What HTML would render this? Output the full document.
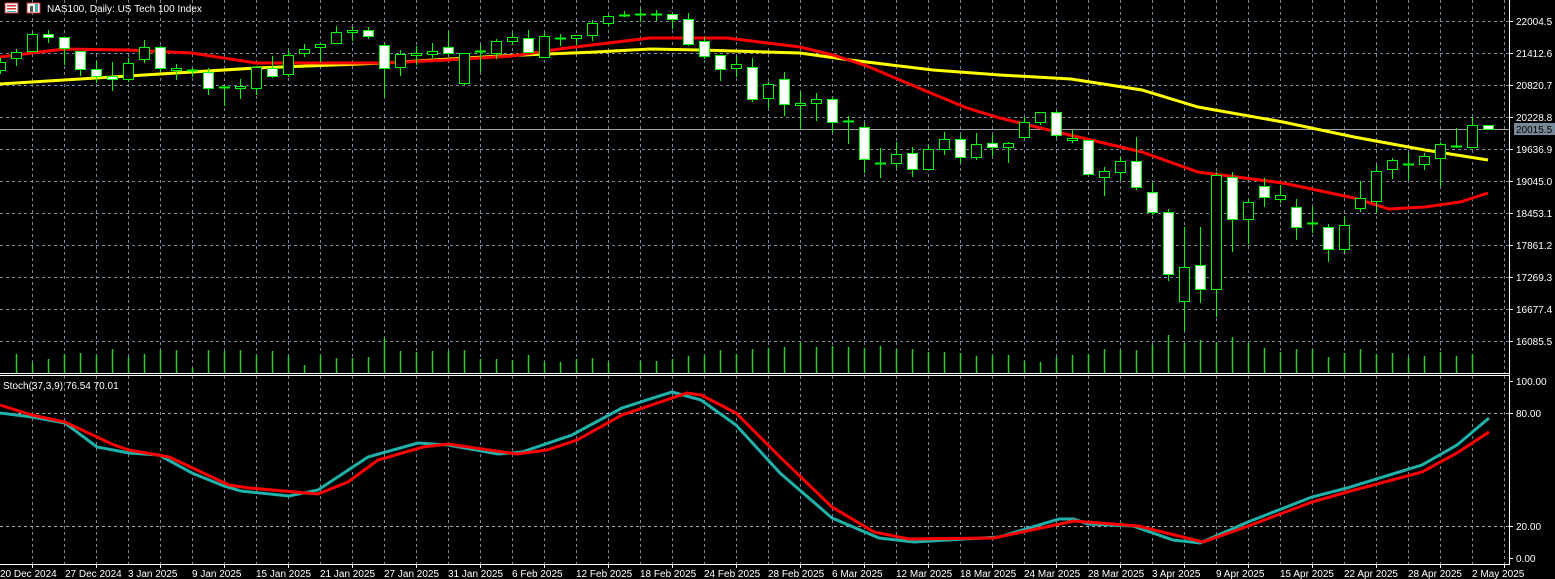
<!DOCTYPE html>
<html><head><meta charset="utf-8">
<style>
html,body{margin:0;padding:0;background:#000;}
body{width:1555px;height:579px;overflow:hidden;position:relative;font-family:"Liberation Sans","DejaVu Sans",sans-serif;}
svg{position:absolute;left:0;top:0;}
text{font-family:"Liberation Sans","DejaVu Sans",sans-serif;font-size:10px;fill:#fff;}
</style></head><body>
<svg id="c" width="1555" height="579" viewBox="0 0 1555 579" xmlns="http://www.w3.org/2000/svg">
<rect width="1555" height="579" fill="#000"/>
<g id="grid"></g>
<g id="vol"></g>
<line x1="0" y1="129.5" x2="1509" y2="129.5" stroke="#a0a0a0" stroke-width="1"/>
<polyline id="ma2" fill="none" stroke="#ffff00" stroke-width="3"/>
<polyline id="ma1" fill="none" stroke="#ff0000" stroke-width="3"/>
<g id="candles"></g>
<polyline id="st1" fill="none" stroke="#20b2aa" stroke-width="3"/>
<polyline id="st2" fill="none" stroke="#ff0000" stroke-width="3"/>
<!-- frame -->
<line x1="0" y1="373.5" x2="1509" y2="373.5" stroke="#fff"/>
<line x1="0" y1="375.5" x2="1509" y2="375.5" stroke="#fff"/>
<line x1="0" y1="564.5" x2="1509" y2="564.5" stroke="#fff"/>
<line x1="1509.5" y1="0" x2="1509.5" y2="565" stroke="#fff"/>
<g id="ticks"></g>
<!-- title -->
<rect x="5" y="3" width="13" height="10" fill="#fff" stroke="#c33"/>
<rect x="7" y="5" width="9" height="1.5" fill="#c33"/><rect x="7" y="8" width="9" height="1.5" fill="#c33"/><rect x="7" y="11" width="9" height="1" fill="#3aa"/>
<rect x="27" y="3" width="13" height="10" fill="#fff" stroke="#c33"/>
<rect x="30" y="6" width="3" height="6" fill="#555"/><rect x="35" y="4" width="3" height="8" fill="#4aa"/>
<text x="47" y="12">NAS100, Daily:  US Tech 100 Index</text>
<text x="3" y="389">Stoch(37,3,9) 76.54 70.01</text>
<!-- price axis labels -->
<text x="1516" y="25">22004.5</text>
<text x="1516" y="57">21412.6</text>
<text x="1516" y="89">20820.7</text>
<text x="1516" y="121">20228.8</text>
<rect x="1514" y="123" width="41" height="12" fill="#778899"/>
<text x="1516" y="133" style="fill:#000">20015.5</text>
<text x="1516" y="153">19636.9</text>
<text x="1516" y="185">19045.0</text>
<text x="1516" y="217">18453.1</text>
<text x="1516" y="249">17861.2</text>
<text x="1516" y="281">17269.3</text>
<text x="1516" y="313">16677.4</text>
<text x="1516" y="345">16085.5</text>
<text x="1516" y="385">100.00</text>
<text x="1516" y="417">80.00</text>
<text x="1516" y="530">20.00</text>
<text x="1516" y="562">0.00</text>
<!-- date labels -->
<g>
<text x="0" y="577">20 Dec 2024</text><text x="65" y="577">27 Dec 2024</text><text x="128" y="577">3 Jan 2025</text><text x="192" y="577">9 Jan 2025</text>
<text x="256" y="577">15 Jan 2025</text><text x="320" y="577">21 Jan 2025</text><text x="384" y="577">27 Jan 2025</text><text x="448" y="577">31 Jan 2025</text>
<text x="512" y="577">6 Feb 2025</text><text x="576" y="577">12 Feb 2025</text><text x="640" y="577">18 Feb 2025</text><text x="704" y="577">24 Feb 2025</text>
<text x="768" y="577">28 Feb 2025</text><text x="832" y="577">6 Mar 2025</text><text x="896" y="577">12 Mar 2025</text><text x="960" y="577">18 Mar 2025</text>
<text x="1024" y="577">24 Mar 2025</text><text x="1088" y="577">28 Mar 2025</text><text x="1152" y="577">3 Apr 2025</text><text x="1216" y="577">9 Apr 2025</text>
<text x="1280" y="577">15 Apr 2025</text><text x="1344" y="577">22 Apr 2025</text><text x="1408" y="577">28 Apr 2025</text><text x="1472" y="577">2 May 2025</text>
</g>
</svg>
<script>
(function(){
var NS="http://www.w3.org/2000/svg";
function el(p,t,a){var e=document.createElementNS(NS,t);for(var k in a)e.setAttribute(k,a[k]);p.appendChild(e);return e;}
var g=document.getElementById('grid');
for(var x=32;x<1509;x+=32){el(g,'line',{x1:x+.5,y1:0,x2:x+.5,y2:373,stroke:'#778899','stroke-dasharray':'3,3'});el(g,'line',{x1:x+.5,y1:376,x2:x+.5,y2:564,stroke:'#778899','stroke-dasharray':'3,3'});}
for(var y=21;y<=341;y+=32){el(g,'line',{x1:0,y1:y+.5,x2:1509,y2:y+.5,stroke:'#778899','stroke-dasharray':'3,3'});}
[413,526].forEach(function(y){el(g,'line',{x1:0,y1:y+.5,x2:1509,y2:y+.5,stroke:'#aaa','stroke-dasharray':'3,3'});});
var tk=document.getElementById('ticks');
for(var y=21;y<=341;y+=32)el(tk,'line',{x1:1509,y1:y+.5,x2:1513,y2:y+.5,stroke:'#fff'});
[381,413,526,558].forEach(function(y){el(tk,'line',{x1:1509,y1:y+.5,x2:1513,y2:y+.5,stroke:'#fff'});});
for(var x=32;x<1509;x+=64)el(tk,'line',{x1:x+.5,y1:564,x2:x+.5,y2:568,stroke:'#fff'});
// candles: [bodyTop, bodyBottom, wickTop, wickBottom, bear(1)/bull(0)]
var C=[[62,70,58,74,0],[52,58,49,66,0],[34,51,33,52,0],[34,37,30,43,1],[37,48,37,65,1],[51,69,51,76,1],[69,76,61,83,1],[76,79,62,91,1],[63,79,58,82,0],[47,59,40,63,0],
[47,68,46,72,1],[68,70,64,80,0],[70,70,68,77,0],[72,88,68,95,1],[87,88,85,106,0],[86,88,79,99,0],[67,88,66,95,0],[68,76,56,78,1],[55,74,50,77,0],[49,53,44,57,0],
[44,47,43,62,0],[32,43,26,44,0],[30,32,27,41,0],[30,36,27,39,1],[45,68,43,97,1],[54,67,50,76,0],[53,55,46,65,0],[51,54,43,58,0],[47,53,31,55,1],[53,83,53,85,0],
[51,51,45,72,0],[41,53,39,59,0],[37,41,33,45,0],[38,52,30,52,1],[36,57,33,58,0],[38,38,34,46,0],[35,38,35,45,0],[23,35,20,41,0],[16,23,15,26,0],[15,15,11,17,0],
[14,14,9,22,0],[14,14,10,21,0],[14,19,14,29,1],[19,44,13,46,1],[41,56,37,59,1],[55,69,55,81,1],[64,68,57,77,0],[67,99,58,102,1],[84,98,82,108,0],[79,104,72,116,1],
[103,105,92,129,0],[99,103,93,121,0],[99,122,97,133,1],[121,121,116,144,0],[127,159,123,173,1],[163,164,148,178,1],[154,163,142,168,0],[153,169,147,177,1],[149,169,145,169,0],[139,149,132,155,0],
[139,157,135,163,1],[144,157,133,160,0],[143,147,135,156,1],[143,147,142,163,0],[122,137,117,137,0],[112,122,112,125,0],[112,135,111,138,1],[138,140,130,143,0],[140,174,140,174,1],[171,177,167,196,0],
[161,172,157,180,0],[161,187,137,190,1],[192,212,183,215,1],[212,274,209,281,1],[267,301,227,331,0],[265,289,227,303,1],[175,289,172,317,0],[177,219,172,252,1],[202,219,199,244,0],[186,197,178,207,1],
[195,199,185,203,0],[207,227,199,240,1],[223,223,207,233,0],[227,249,224,262,1],[225,249,217,253,0],[198,208,181,212,0],[171,201,165,213,0],[160,169,158,179,0],[164,164,153,180,0],[156,164,153,170,0],
[144,158,142,186,0],[146,146,128,148,0],[125,147,117,147,0],[125,129,125,129,1]];
var cg=document.getElementById('candles');
C.forEach(function(c,i){var x=16*i;
 if(c[2]<c[0])el(cg,'line',{x1:x+.5,y1:c[2],x2:x+.5,y2:c[0],stroke:'#00ff00'});
 if(c[3]>c[1])el(cg,'line',{x1:x+.5,y1:c[1],x2:x+.5,y2:c[3],stroke:'#00ff00'});
 var h=Math.max(c[1]-c[0],0);
 if(h<2){el(cg,'line',{x1:x-5,y1:c[0]+.5,x2:x+6,y2:c[0]+.5,stroke:'#00ff00','stroke-width':2});}
 else el(cg,'rect',{x:x-4.5,y:c[0]+.5,width:10,height:h,fill:c[4]?'#fff':'#000',stroke:'#00ff00'});
});
var V=[0,354,363,359,354,353,355,349,357,354,350,350,368,350,351,350,355,351,356,365,355,358,358,357,338,351,352,351,351,350,359,359,360,355,362,362,359,358,362,0,361,361,359,356,355,350,354,349,348,347,342,347,346,347,348,346,349,349,352,352,353,356,355,355,361,362,357,355,354,349,350,350,345,335,343,340,342,337,343,348,352,349,349,357,353,349,354,353,357,356,352,356,354,0];
var vg=document.getElementById('vol');
V.forEach(function(v,i){if(v)el(vg,'line',{x1:16*i+.5,y1:v,x2:16*i+.5,y2:373,stroke:'#32cd32','stroke-width':1.5});});
function pts(a){return a.map(function(p){return p.join(',');}).join(' ');}
document.getElementById('ma2').setAttribute('points',pts([[0,84],[128,76],[256,68],[384,63],[500,56],[596,52],[650,49],[700,50],[800,53],[850,60],[933,70],[1000,75],[1071,79],[1142,90],[1198,107],[1283,122],[1354,137],[1425,150],[1488,160]]));
document.getElementById('ma1').setAttribute('points',pts([[0,57],[64,49],[128,50],[192,53],[256,63],[320,63],[384,63],[448,60],[512,56],[567,48],[650,38],[727,38],[800,47],[833,55],[867,66],[900,80],[933,94],[967,108],[1000,118],[1057,132],[1142,152],[1198,172],[1283,183],[1354,198],[1389,209],[1425,207],[1460,202],[1488,193]]));
document.getElementById('st1').setAttribute('points',pts([[0,413],[32,417],[65,423],[97,447],[129,453],[159,455],[192,473],[224,486],[241,491],[289,496],[318,490],[368,457],[418,443],[448,445],[498,454],[522,452],[572,435],[622,408],[672,392],[701,400],[736,425],[780,473],[832,518],[879,538],[914,542],[999,537],[1059,519],[1074,519],[1088,524],[1133,526],[1173,540],[1200,543],[1248,522],[1312,497],[1347,488],[1422,465],[1457,445],[1489,418]]));
document.getElementById('st2').setAttribute('points',pts([[0,405],[32,415],[65,422],[114,445],[129,450],[169,457],[229,485],[249,488],[318,494],[348,482],[378,460],[423,447],[448,444],[517,454],[547,450],[577,440],[622,415],[687,393],[701,395],[736,413],[780,457],[832,507],[874,532],[909,539],[994,538],[1074,521],[1138,526],[1203,542],[1243,528],[1312,502],[1347,492],[1422,472],[1457,453],[1489,432]]));
})();
</script>
</body></html>
